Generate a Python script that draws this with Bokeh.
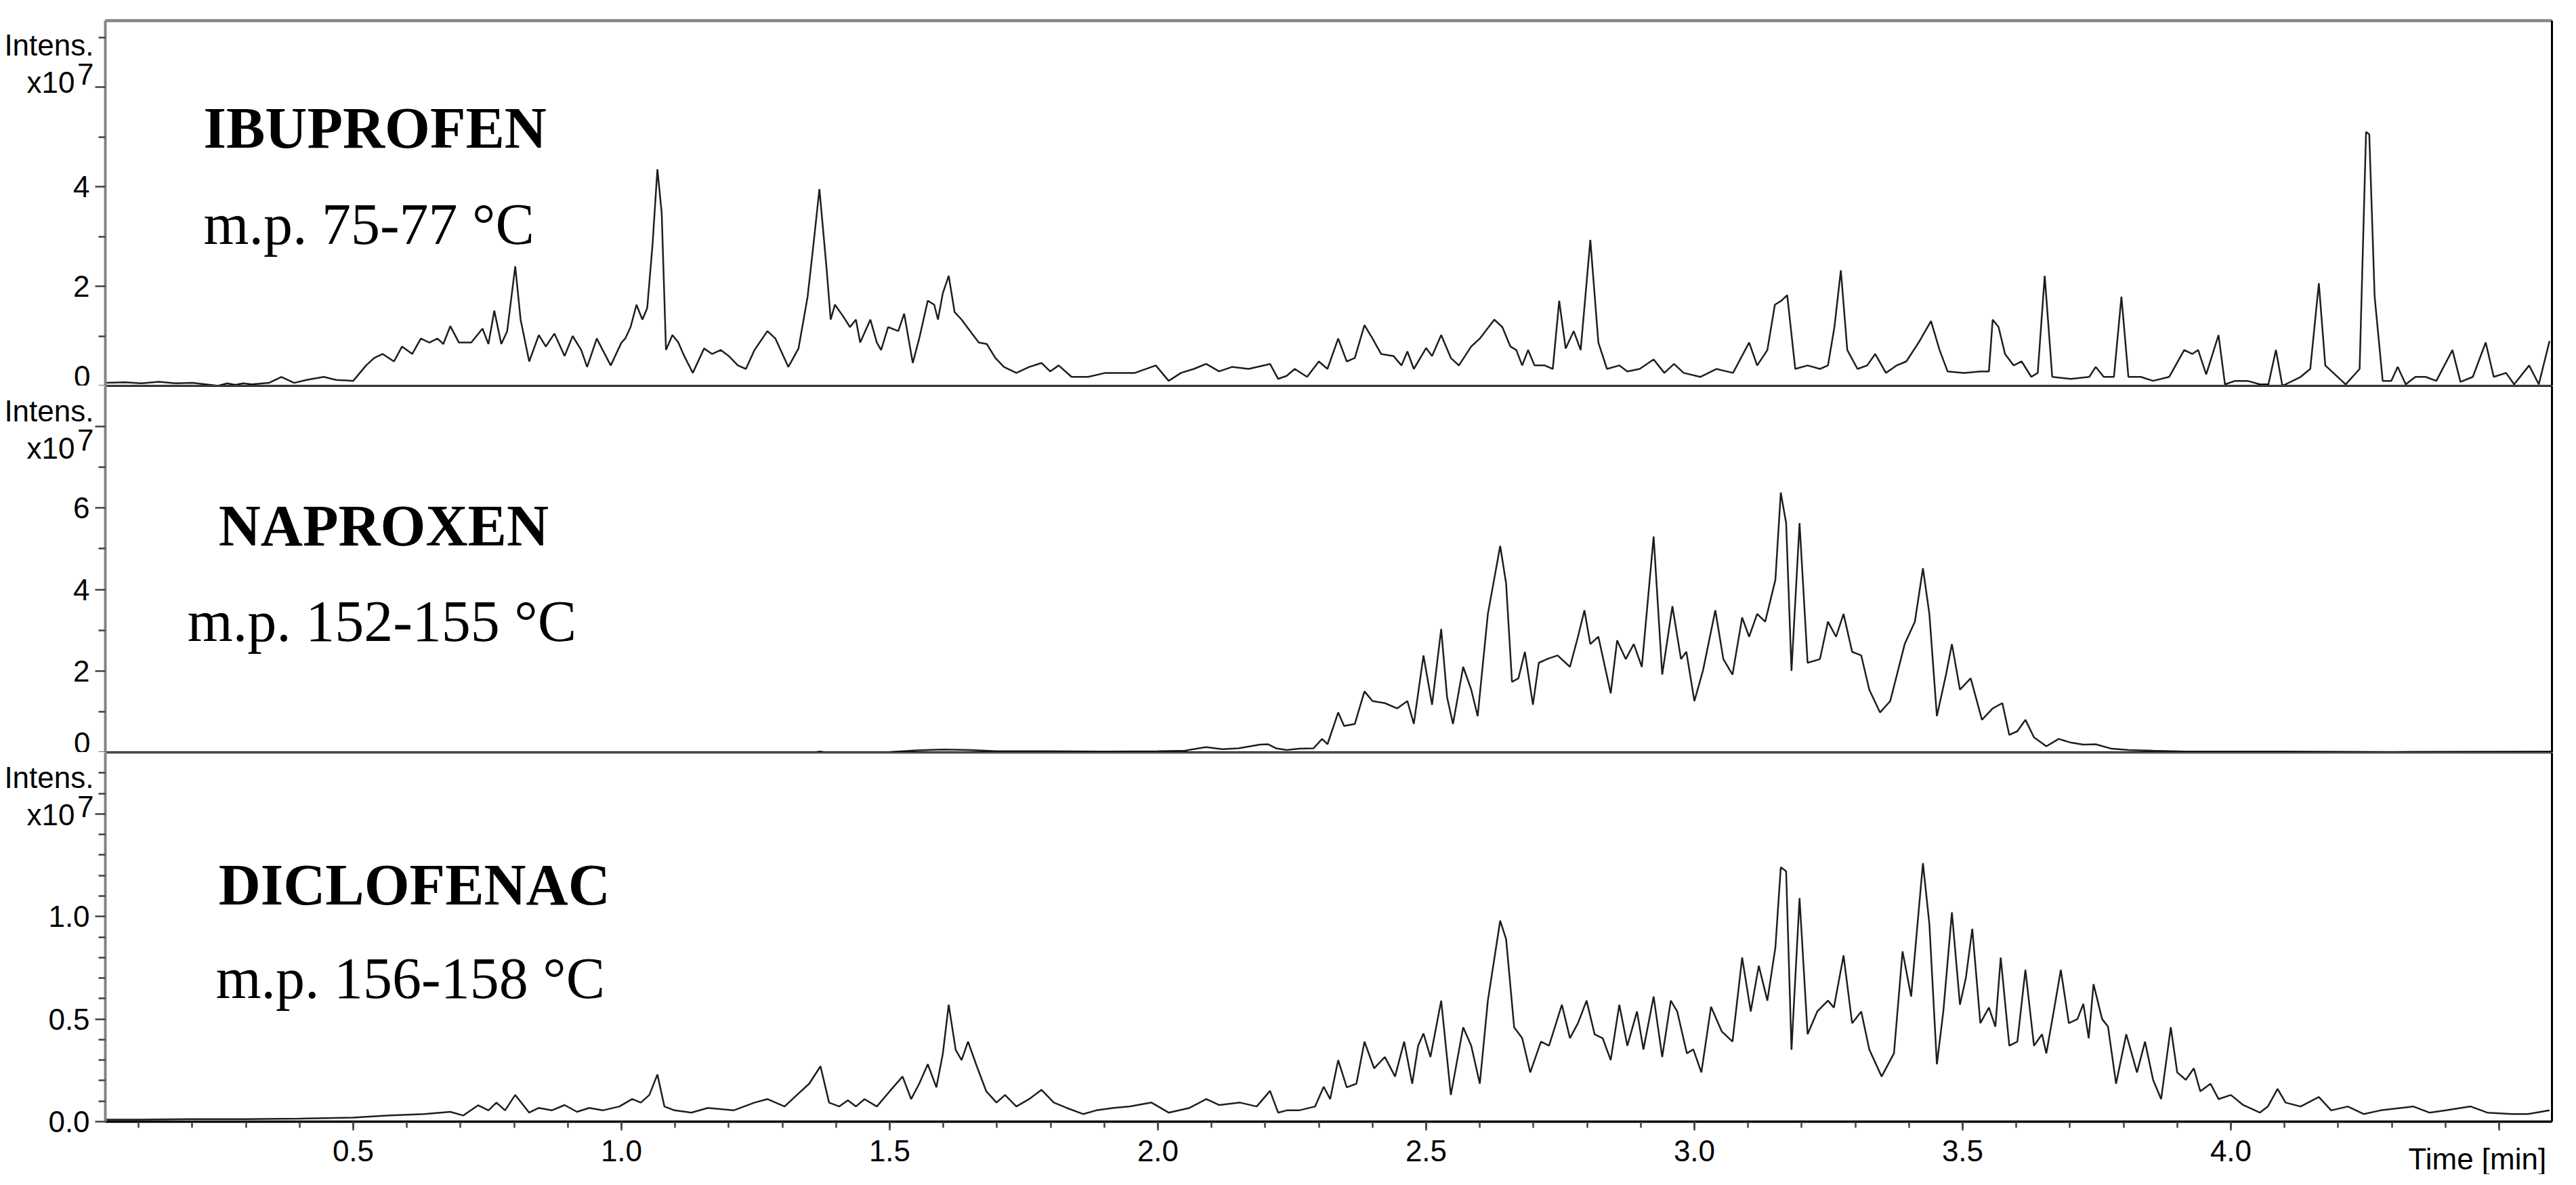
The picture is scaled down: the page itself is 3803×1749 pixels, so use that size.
from bokeh.plotting import figure
from bokeh.models import Range1d, FixedTicker, LinearAxis, Label
from bokeh.layouts import column
from bokeh.embed import file_html
from bokeh.resources import INLINE

# ---------------- data (intensity in units of 1e7) ----------------
ibu_t = [0.038, 0.075, 0.105, 0.138, 0.170, 0.200, 0.225, 0.248, 0.265, 0.280, 0.295, 0.311, 0.343, 0.366,
         0.390, 0.413, 0.445, 0.468, 0.500, 0.524, 0.539, 0.555, 0.576, 0.591, 0.610, 0.626, 0.642, 0.657,
         0.668, 0.681, 0.697, 0.720, 0.741, 0.752, 0.763, 0.776, 0.787, 0.802, 0.812, 0.828, 0.846, 0.859,
         0.875, 0.894, 0.909, 0.925, 0.936, 0.954, 0.965, 0.980, 1.000, 1.007, 1.017, 1.028, 1.039, 1.048,
         1.058, 1.067, 1.075, 1.083, 1.095, 1.106, 1.117, 1.133, 1.154, 1.169, 1.185, 1.200, 1.217, 1.232,
         1.248, 1.272, 1.287, 1.311, 1.330, 1.347, 1.358, 1.369, 1.382, 1.390, 1.398, 1.413, 1.426, 1.437,
         1.445, 1.464, 1.476, 1.484, 1.497, 1.516, 1.527, 1.543, 1.555, 1.571, 1.583, 1.590, 1.599, 1.610,
         1.621, 1.634, 1.650, 1.666, 1.681, 1.697, 1.713, 1.736, 1.760, 1.783, 1.799, 1.815, 1.839, 1.870,
         1.902, 1.933, 1.957, 1.996, 2.020, 2.043, 2.067, 2.090, 2.114, 2.138, 2.169, 2.209, 2.224, 2.240,
         2.255, 2.278, 2.300, 2.316, 2.336, 2.352, 2.367, 2.385, 2.400, 2.416, 2.439, 2.454, 2.465, 2.477,
         2.500, 2.511, 2.528, 2.546, 2.561, 2.584, 2.600, 2.627, 2.642, 2.657, 2.668, 2.679, 2.690, 2.702,
         2.721, 2.736, 2.748, 2.760, 2.775, 2.788, 2.806, 2.821, 2.837, 2.860, 2.875, 2.898, 2.924, 2.944,
         2.962, 2.980, 3.011, 3.041, 3.072, 3.102, 3.117, 3.136, 3.150, 3.162, 3.173, 3.188, 3.211, 3.234,
         3.249, 3.261, 3.273, 3.285, 3.304, 3.322, 3.337, 3.357, 3.377, 3.395, 3.418, 3.441, 3.457, 3.472,
         3.503, 3.533, 3.549, 3.556, 3.567, 3.579, 3.595, 3.610, 3.628, 3.640, 3.653, 3.667, 3.702, 3.736,
         3.748, 3.763, 3.782, 3.796, 3.809, 3.832, 3.855, 3.885, 3.913, 3.928, 3.939, 3.954, 3.977, 3.989,
         4.008, 4.031, 4.054, 4.070, 4.084, 4.096, 4.130, 4.148, 4.164, 4.176, 4.191, 4.214, 4.240, 4.252,
         4.258, 4.268, 4.283, 4.299, 4.311, 4.326, 4.344, 4.363, 4.383, 4.413, 4.428, 4.451, 4.475, 4.490,
         4.513, 4.528, 4.556, 4.574, 4.594]
ibu_v = [0.06, 0.07, 0.05, 0.08, 0.05, 0.06, 0.03, 0.00, 0.05, 0.02, 0.05, 0.03, 0.06, 0.18,
         0.06, 0.12, 0.18, 0.12, 0.10, 0.41, 0.56, 0.64, 0.49, 0.79, 0.64, 0.95, 0.87, 0.95,
         0.84, 1.20, 0.87, 0.87, 1.15, 0.84, 1.51, 0.84, 1.10, 2.40, 1.33, 0.49, 1.02, 0.79,
         1.05, 0.60, 1.00, 0.72, 0.38, 0.95, 0.72, 0.41, 0.87, 0.95, 1.18, 1.63, 1.33, 1.56,
         2.85, 4.35, 3.47, 0.72, 1.02, 0.87, 0.60, 0.26, 0.75, 0.64, 0.72, 0.60, 0.41, 0.34,
         0.72, 1.10, 0.95, 0.38, 0.75, 1.79, 2.85, 3.95, 2.40, 1.33, 1.63, 1.40, 1.18, 1.33,
         0.87, 1.33, 0.87, 0.72, 1.18, 1.10, 1.45, 0.46, 0.95, 1.71, 1.63, 1.33, 1.86, 2.21,
         1.48, 1.33, 1.10, 0.87, 0.84, 0.56, 0.38, 0.26, 0.38, 0.46, 0.29, 0.41, 0.18, 0.18,
         0.26, 0.26, 0.26, 0.41, 0.10, 0.26, 0.34, 0.44, 0.29, 0.38, 0.34, 0.44, 0.14, 0.20,
         0.34, 0.18, 0.49, 0.34, 0.95, 0.49, 0.56, 1.22, 0.95, 0.64, 0.60, 0.41, 0.69, 0.34,
         0.76, 0.60, 1.02, 0.56, 0.41, 0.79, 0.95, 1.33, 1.18, 0.79, 0.72, 0.41, 0.72, 0.41,
         0.41, 0.34, 1.71, 0.75, 1.10, 0.72, 2.93, 0.87, 0.34, 0.41, 0.29, 0.34, 0.53, 0.26,
         0.44, 0.26, 0.18, 0.34, 0.26, 0.87, 0.41, 0.72, 1.63, 1.71, 1.82, 0.34, 0.41, 0.34,
         0.41, 1.18, 2.32, 0.72, 0.34, 0.41, 0.64, 0.26, 0.41, 0.49, 0.87, 1.30, 0.72, 0.29,
         0.26, 0.29, 0.29, 1.33, 1.18, 0.64, 0.41, 0.49, 0.18, 0.26, 2.21, 0.18, 0.14, 0.18,
         0.38, 0.18, 0.18, 1.79, 0.18, 0.18, 0.10, 0.18, 0.72, 0.64, 0.72, 0.23, 1.02, 0.03,
         0.10, 0.10, 0.03, 0.03, 0.72, 0.00, 0.18, 0.34, 2.06, 0.41, 0.26, 0.03, 0.34, 5.10,
         5.05, 1.79, 0.10, 0.10, 0.38, 0.03, 0.18, 0.18, 0.10, 0.72, 0.08, 0.18, 0.87, 0.18,
         0.26, 0.03, 0.41, 0.03, 0.90]

nap_t = [0.038, 0.500, 1.000, 1.360, 1.370, 1.380, 1.500, 1.550, 1.600, 1.650, 1.700, 1.800, 1.900, 2.000,
         2.050, 2.090, 2.120, 2.150, 2.190, 2.205, 2.220, 2.240, 2.263, 2.290, 2.306, 2.316, 2.336, 2.347,
         2.367, 2.385, 2.400, 2.423, 2.446, 2.465, 2.477, 2.495, 2.511, 2.528, 2.539, 2.550, 2.569, 2.584,
         2.596, 2.615, 2.638, 2.649, 2.660, 2.672, 2.684, 2.699, 2.710, 2.725, 2.745, 2.768, 2.783, 2.795,
         2.806, 2.821, 2.844, 2.856, 2.872, 2.887, 2.902, 2.924, 2.940, 2.959, 2.975, 2.985, 3.000, 3.016,
         3.039, 3.054, 3.071, 3.089, 3.102, 3.117, 3.132, 3.151, 3.161, 3.171, 3.181, 3.196, 3.211, 3.234,
         3.249, 3.264, 3.278, 3.294, 3.311, 3.326, 3.346, 3.365, 3.392, 3.411, 3.426, 3.438, 3.452, 3.469,
         3.480, 3.495, 3.515, 3.536, 3.556, 3.574, 3.587, 3.602, 3.617, 3.633, 3.656, 3.679, 3.702, 3.725,
         3.748, 3.778, 3.809, 3.855, 3.916, 4.100, 4.300, 4.598]
nap_v = [0.00, 0.00, 0.00, 0.00, 0.02, 0.00, 0.01, 0.05, 0.07, 0.06, 0.03, 0.03, 0.02, 0.03,
         0.04, 0.13, 0.08, 0.10, 0.19, 0.20, 0.10, 0.06, 0.09, 0.10, 0.33, 0.20, 0.98, 0.65,
         0.70, 1.50, 1.26, 1.21, 1.08, 1.26, 0.70, 2.38, 1.17, 3.03, 1.35, 0.70, 2.10, 1.54,
         0.89, 3.40, 5.07, 4.15, 1.73, 1.82, 2.47, 1.17, 2.20, 2.29, 2.38, 2.10, 2.84, 3.49,
         2.66, 2.84, 1.45, 2.75, 2.29, 2.66, 2.10, 5.30, 1.91, 3.59, 2.29, 2.47, 1.26, 2.01,
         3.49, 2.29, 1.91, 3.31, 2.84, 3.40, 3.21, 4.24, 6.38, 5.63, 2.00, 5.63, 2.20, 2.29,
         3.21, 2.84, 3.40, 2.47, 2.38, 1.54, 0.98, 1.26, 2.66, 3.21, 4.52, 3.40, 0.89, 1.91,
         2.66, 1.54, 1.82, 0.80, 1.08, 1.21, 0.43, 0.52, 0.80, 0.37, 0.15, 0.33, 0.24, 0.19,
         0.20, 0.09, 0.06, 0.04, 0.02, 0.02, 0.01, 0.02]

dic_t = [0.038, 0.100, 0.200, 0.300, 0.400, 0.500, 0.563, 0.633, 0.681, 0.705, 0.733, 0.752, 0.767, 0.783,
         0.802, 0.828, 0.846, 0.870, 0.894, 0.917, 0.940, 0.965, 0.996, 1.020, 1.036, 1.052, 1.067, 1.080,
         1.099, 1.130, 1.161, 1.209, 1.248, 1.272, 1.304, 1.327, 1.350, 1.371, 1.387, 1.406, 1.422, 1.437,
         1.453, 1.476, 1.500, 1.524, 1.540, 1.555, 1.571, 1.587, 1.599, 1.610, 1.623, 1.634, 1.646, 1.661,
         1.680, 1.699, 1.715, 1.736, 1.760, 1.783, 1.806, 1.830, 1.861, 1.885, 1.917, 1.948, 1.988, 2.020,
         2.059, 2.090, 2.114, 2.153, 2.184, 2.209, 2.224, 2.240, 2.263, 2.293, 2.309, 2.321, 2.336, 2.352,
         2.370, 2.385, 2.403, 2.423, 2.442, 2.459, 2.474, 2.485, 2.495, 2.508, 2.528, 2.546, 2.569, 2.584,
         2.600, 2.615, 2.638, 2.649, 2.664, 2.679, 2.694, 2.714, 2.729, 2.753, 2.768, 2.783, 2.799, 2.814,
         2.829, 2.844, 2.860, 2.875, 2.893, 2.905, 2.924, 2.940, 2.956, 2.968, 2.986, 2.998, 3.013, 3.031,
         3.051, 3.071, 3.089, 3.105, 3.120, 3.136, 3.151, 3.161, 3.171, 3.181, 3.196, 3.211, 3.229, 3.249,
         3.260, 3.278, 3.294, 3.311, 3.326, 3.349, 3.372, 3.388, 3.404, 3.414, 3.426, 3.438, 3.452, 3.464,
         3.480, 3.495, 3.506, 3.518, 3.533, 3.549, 3.561, 3.571, 3.587, 3.602, 3.617, 3.633, 3.648, 3.656,
         3.671, 3.683, 3.698, 3.714, 3.725, 3.735, 3.744, 3.760, 3.771, 3.786, 3.805, 3.825, 3.840, 3.855,
         3.870, 3.888, 3.900, 3.916, 3.931, 3.943, 3.962, 3.977, 4.000, 4.023, 4.054, 4.069, 4.087, 4.102,
         4.130, 4.164, 4.187, 4.218, 4.248, 4.279, 4.317, 4.340, 4.370, 4.401, 4.447, 4.478, 4.524, 4.554,
         4.594]
dic_v = [0.010, 0.010, 0.012, 0.012, 0.015, 0.020, 0.030, 0.037, 0.048, 0.030, 0.080, 0.055, 0.093, 0.055,
         0.130, 0.044, 0.067, 0.055, 0.081, 0.048, 0.067, 0.055, 0.074, 0.110, 0.093, 0.130, 0.230, 0.074,
         0.055, 0.044, 0.067, 0.055, 0.093, 0.110, 0.074, 0.130, 0.185, 0.270, 0.093, 0.074, 0.104, 0.074,
         0.110, 0.074, 0.148, 0.220, 0.110, 0.185, 0.280, 0.167, 0.330, 0.570, 0.350, 0.300, 0.390, 0.280,
         0.148, 0.093, 0.130, 0.074, 0.110, 0.155, 0.093, 0.067, 0.037, 0.055, 0.067, 0.074, 0.093, 0.044,
         0.067, 0.110, 0.081, 0.093, 0.074, 0.150, 0.044, 0.055, 0.055, 0.074, 0.170, 0.110, 0.300, 0.167,
         0.185, 0.390, 0.260, 0.315, 0.220, 0.390, 0.185, 0.370, 0.430, 0.315, 0.590, 0.130, 0.460, 0.370,
         0.185, 0.590, 0.980, 0.890, 0.460, 0.407, 0.240, 0.390, 0.370, 0.570, 0.407, 0.480, 0.590, 0.426,
         0.407, 0.300, 0.570, 0.370, 0.537, 0.352, 0.610, 0.315, 0.590, 0.537, 0.333, 0.352, 0.240, 0.560,
         0.440, 0.390, 0.800, 0.537, 0.760, 0.590, 0.850, 1.240, 1.220, 0.350, 1.090, 0.426, 0.537, 0.590,
         0.556, 0.810, 0.480, 0.537, 0.352, 0.220, 0.333, 0.830, 0.610, 0.907, 1.260, 0.963, 0.280, 0.537,
         1.020, 0.570, 0.700, 0.940, 0.480, 0.556, 0.463, 0.800, 0.370, 0.390, 0.740, 0.370, 0.426, 0.333,
         0.556, 0.740, 0.480, 0.500, 0.574, 0.407, 0.670, 0.500, 0.463, 0.185, 0.426, 0.240, 0.390, 0.204,
         0.110, 0.460, 0.240, 0.204, 0.260, 0.148, 0.185, 0.110, 0.130, 0.081, 0.044, 0.074, 0.160, 0.093,
         0.074, 0.120, 0.055, 0.074, 0.037, 0.055, 0.067, 0.074, 0.044, 0.055, 0.074, 0.044, 0.037, 0.037,
         0.055]

names = ["IBUPROFEN", "NAPROXEN", "DICLOFENAC"]
melting = ["m.p. 75-77 °C", "m.p. 152-155 °C", "m.p. 156-158 °C"]

x_major = [0.5, 1.0, 1.5, 2.0, 2.5, 3.0, 3.5, 4.0, 4.5]
x_labels = {0.5: "0.5", 1.0: "1.0", 1.5: "1.5", 2.0: "2.0", 2.5: "2.5",
            3.0: "3.0", 3.5: "3.5", 4.0: "4.0", 4.5: " "}

# ---------------- styling / layout ----------------
W = 3786
PX_PER_MIN = 792.0
VIEW_START = -0.1578                     # time at the left canvas edge
VIEW_END = VIEW_START + W / PX_PER_MIN
X_START, X_END = 0.038, 4.598            # extent of the drawn axes
SANS = "Liberation Sans"
SERIF = "Liberation Serif"
TICK_COL = "#404040"
GREY = "#858585"
FS = "44px"


def border_axis(p, side, loc, bounds, color="black", width=3):
    ax = LinearAxis(ticker=FixedTicker(ticks=[]), fixed_location=loc, bounds=bounds,
                    axis_line_color=color, axis_line_width=width,
                    major_tick_line_color=None, minor_tick_line_color=None,
                    major_label_text_font_size="0px")
    p.add_layout(ax, side)


def panel(t, v, ybot, ytop, yvis, major, minor, overrides, height):
    p = figure(width=W, height=height, output_backend="svg", toolbar_location=None,
               x_range=Range1d(VIEW_START, VIEW_END), y_range=Range1d(ybot, ytop),
               x_axis_location=None, y_axis_location=None, min_border=0)
    p.grid.grid_line_color = None
    p.background_fill_color = "white"
    p.border_fill_color = "white"
    p.outline_line_color = None

    ya = LinearAxis(ticker=FixedTicker(ticks=major, minor_ticks=minor),
                    fixed_location=X_START, bounds=(0, yvis))
    ya.major_label_overrides = overrides
    ya.axis_line_color = GREY
    ya.axis_line_width = 4
    ya.major_tick_line_color = TICK_COL
    ya.major_tick_line_width = 2.5
    ya.major_tick_in = 0
    ya.major_tick_out = 15
    ya.minor_tick_line_color = TICK_COL
    ya.minor_tick_line_width = 2.5
    ya.minor_tick_in = 0
    ya.minor_tick_out = 10
    ya.major_label_text_font = SANS
    ya.major_label_text_font_size = FS
    ya.major_label_text_color = "black"
    ya.major_label_standoff = 8
    p.add_layout(ya, "left")

    border_axis(p, "right", X_END, (0, yvis))
    p.line(t, v, line_color="#1e1e1e", line_width=2.5)
    return p


def add_label(p, x, y, text, size=FS, font=SANS, style="normal", align="right", baseline="alphabetic"):
    p.add_layout(Label(x=x, y=y, text=text, text_font=font, text_font_size=size,
                       text_font_style=style, text_color="black",
                       text_align=align, text_baseline=baseline))


# panel 1 : ibuprofen (0 at canvas bottom, 73.5 px per unit)
p1 = panel(ibu_t, ibu_v, 0, 569 / 73.5, 7.34, [2, 4, 6], [0, 1, 3, 5, 7],
           {2: "2", 4: "4", 6: " "}, 569)
border_axis(p1, "above", 7.34, (X_START, X_END), color=GREY, width=4.5)
border_axis(p1, "below", 0, (X_START, X_END))

# panel 2 : naproxen
p2 = panel(nap_t, nap_v, 0, 9.0, 9.0, [2, 4, 6, 8], [0, 1, 3, 5, 7],
           {2: "2", 4: "4", 6: "6", 8: " "}, 541)
border_axis(p2, "above", 9.0, (X_START, X_END))
border_axis(p2, "below", 0, (X_START, X_END))

# panel 3 : diclofenac (room below for the time axis)
p3 = panel(dic_t, dic_v, -78 / 302.8, 1.8, 1.8, [0, 0.5, 1.0, 1.5],
           [0.1, 0.2, 0.3, 0.4, 0.6, 0.7, 0.8, 0.9, 1.1, 1.2, 1.3, 1.4, 1.6, 1.7],
           {0: "0.0", 0.5: "0.5", 1.0: "1.0", 1.5: " "}, 623)
border_axis(p3, "above", 1.8, (X_START, X_END))

xa = LinearAxis(ticker=FixedTicker(ticks=x_major,
                                   minor_ticks=[round(0.1 * i, 1) for i in range(1, 46)]),
                fixed_location=0, bounds=(X_START, X_END))
xa.major_label_overrides = x_labels
xa.axis_line_color = "black"
xa.axis_line_width = 3.5
xa.major_tick_line_color = TICK_COL
xa.major_tick_line_width = 2.5
xa.major_tick_in = 0
xa.major_tick_out = 13
xa.minor_tick_line_color = TICK_COL
xa.minor_tick_line_width = 2.5
xa.minor_tick_in = 0
xa.minor_tick_out = 9
xa.major_label_text_font = SANS
xa.major_label_text_font_size = FS
xa.major_label_text_color = "black"
xa.major_label_standoff = 5
p3.add_layout(xa, "below")

# "Intens. x10^7" headers
X_INT = 0.0164
X_X10 = -0.0189
for p, yi, yx, y7 in [(p1, 6.84, 6.095, 6.263), (p2, 8.386, 7.471, 7.676), (p3, 1.678, 1.496, 1.537)]:
    add_label(p, X_INT, yi, "Intens.")
    add_label(p, X_X10, yx, "x10")
    add_label(p, X_INT, y7, "7")

# "0" tick labels of the two upper panels, kept fully inside their panels
add_label(p1, 0.0101, 14 / 73.5, "0")
add_label(p2, 0.0101, 14 / 60.1, "0")

# compound names and melting points
add_label(p1, 0.221, 5.174, names[0], "86px", font=SERIF, style="bold", align="left")
add_label(p1, 0.221, 3.248, melting[0], "86px", font=SERIF, align="left")
add_label(p2, 0.249, 5.557, names[1], "86px", font=SERIF, style="bold", align="left")
add_label(p2, 0.191, 3.211, melting[1], "86px", font=SERIF, align="left")
add_label(p3, 0.249, 1.153, names[2], "86px", font=SERIF, style="bold", align="left")
add_label(p3, 0.244, 0.697, melting[2], "86px", font=SERIF, align="left")

# time-axis title at the right end of the tick-label row
add_label(p3, 4.588, -0.1816, "Time [min]")

layout = column(p1, p2, p3)
open("out.html", "w").write(file_html(layout, INLINE))
